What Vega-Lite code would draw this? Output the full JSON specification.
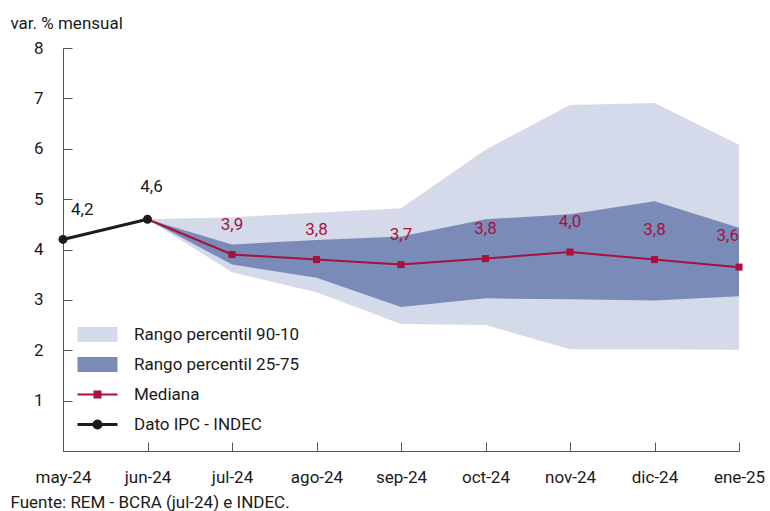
{
  "$schema": "https://vega.github.io/schema/vega-lite/v6.json",
  "width": 676,
  "height": 403,
  "autosize": {"type": "none"},
  "padding": {"left": 63, "top": 48, "right": 31, "bottom": 60},
  "background": "white",
  "config": {
    "font": "Roboto",
    "view": {"stroke": null},
    "axis": {"labelFont": "Roboto", "labelFontSize": 17, "labelColor": "#1a1a1a", "domainColor": "#555555", "tickColor": "#555555", "grid": false, "titleFont": "Roboto", "titleFontSize": 17, "titleFontWeight": "normal", "titleColor": "#1a1a1a"},
    "legend": {"labelFont": "Roboto"}
  },
  "data": {
    "values": [
      {"mes": "may-24", "ipc": 4.2, "lblIpc": "4,2"},
      {"mes": "jun-24", "ipc": 4.6, "lblIpc": "4,6", "mediana": 4.6, "p10": 4.6, "p90": 4.6, "p25": 4.6, "p75": 4.6},
      {"mes": "jul-24", "mediana": 3.9, "lbl": "3,9", "p10": 3.55, "p90": 4.64, "p25": 3.7, "p75": 4.1},
      {"mes": "ago-24", "mediana": 3.8, "lbl": "3,8", "p10": 3.15, "p90": 4.73, "p25": 3.44, "p75": 4.19},
      {"mes": "sep-24", "mediana": 3.7, "lbl": "3,7", "p10": 2.52, "p90": 4.82, "p25": 2.86, "p75": 4.26},
      {"mes": "oct-24", "mediana": 3.82, "lbl": "3,8", "p10": 2.5, "p90": 5.98, "p25": 3.03, "p75": 4.6},
      {"mes": "nov-24", "mediana": 3.95, "lbl": "4,0", "p10": 2.02, "p90": 6.87, "p25": 3.01, "p75": 4.7},
      {"mes": "dic-24", "mediana": 3.8, "lbl": "3,8", "p10": 2.02, "p90": 6.91, "p25": 2.99, "p75": 4.96},
      {"mes": "ene-25", "mediana": 3.65, "lbl": "3,6", "p10": 2.01, "p90": 6.08, "p25": 3.07, "p75": 4.43}
    ]
  },
  "encoding": {
    "x": {
      "field": "mes",
      "type": "ordinal",
      "sort": ["may-24", "jun-24", "jul-24", "ago-24", "sep-24", "oct-24", "nov-24", "dic-24", "ene-25"],
      "scale": {"type": "point", "padding": 0},
      "axis": {
        "labelAngle": 0,
        "tickSize": -9,
        "labelPadding": 27,
        "title": "Fuente: REM - BCRA (jul-24) e INDEC.",
        "titleX": -53,
        "titleY": 56,
        "titleAlign": "left",
        "titleBaseline": "alphabetic",
        "titleAnchor": "start"
      }
    }
  },
  "layer": [
    {
      "mark": {"type": "area", "opacity": 1},
      "encoding": {
        "y": {"field": "p10", "type": "quantitative", "scale": {"domain": [0, 8], "nice": false, "zero": true},
          "axis": {"values": [1, 2, 3, 4, 5, 6, 7, 8], "tickSize": -9, "labelPadding": 29, "title": "var. % mensual", "titleAngle": 0, "titleX": -53, "titleY": -20, "titleAlign": "left", "titleBaseline": "alphabetic", "titleAnchor": "start"}},
        "y2": {"field": "p90"},
        "color": {
          "datum": "Rango percentil 90-10",
          "scale": {"domain": ["Rango percentil 90-10", "Rango percentil 25-75", "Mediana", "Dato IPC - INDEC"], "range": ["#d5daea", "#7b8bb8", "#a6113d", "#1c1c1c"]},
          "legend": {
            "orient": "none", "legendX": 22, "legendY": 274, "title": null,
            "symbolSize": 625, "labelFontSize": 17, "labelColor": "#1a1a1a", "labelOffset": 24, "labelLimit": 400, "rowPadding": 9, "padding": 0, "symbolStrokeWidth": 0, "symbolOpacity": 1
          }
        }
      }
    },
    {
      "mark": {"type": "area", "opacity": 1},
      "encoding": {
        "y": {"field": "p25", "type": "quantitative"},
        "y2": {"field": "p75"},
        "color": {"datum": "Rango percentil 25-75"}
      }
    },
    {
      "mark": {"type": "line", "strokeWidth": 2},
      "encoding": {
        "y": {"field": "mediana", "type": "quantitative"},
        "color": {"datum": "Mediana"}
      }
    },
    {
      "transform": [{"filter": "isValid(datum.lbl)"}],
      "mark": {"type": "point", "shape": "square", "filled": true, "size": 50, "opacity": 1},
      "encoding": {
        "y": {"field": "mediana", "type": "quantitative"},
        "color": {"datum": "Mediana"}
      }
    },
    {
      "mark": {"type": "line", "strokeWidth": 3},
      "encoding": {
        "y": {"field": "ipc", "type": "quantitative"},
        "color": {"datum": "Dato IPC - INDEC"}
      }
    },
    {
      "transform": [{"filter": "isValid(datum.ipc)"}],
      "mark": {"type": "point", "shape": "circle", "filled": true, "size": 81, "opacity": 1},
      "encoding": {
        "y": {"field": "ipc", "type": "quantitative"},
        "color": {"datum": "Dato IPC - INDEC"}
      }
    },
    {
      "transform": [{"filter": "false"}],
      "mark": {"type": "point", "filled": true, "opacity": 1},
      "encoding": {
        "y": {"field": "ipc", "type": "quantitative"},
        "color": {"datum": "Dato IPC - INDEC"},
        "shape": {
          "datum": "Dato IPC - INDEC",
          "scale": {"domain": ["Rango percentil 90-10", "Rango percentil 25-75", "Mediana", "Dato IPC - INDEC"],
            "range": ["M-1.6,-0.6H1.6V0.6H-1.6Z", "M-1.6,-0.6H1.6V0.6H-1.6Z", "M-1.6,-0.08H-0.32V-0.32H0.32V-0.08H1.6V0.08H0.32V0.32H-0.32V0.08H-1.6Z", "M-1.6,-0.12H-0.38A0.4,0.4 0 0 1 0.38,-0.12H1.6V0.12H0.38A0.4,0.4 0 0 1 -0.38,0.12H-1.6Z"]}
        }
      }
    },
    {
      "transform": [{"filter": "isValid(datum.lbl) && datum.mes !== 'ene-25'"}],
      "mark": {"type": "text", "fontSize": 17, "color": "#a6113d", "baseline": "middle", "align": "center", "dy": -30},
      "encoding": {
        "y": {"field": "mediana", "type": "quantitative"},
        "text": {"field": "lbl"}
      }
    },
    {
      "transform": [{"filter": "datum.mes === 'ene-25'"}],
      "mark": {"type": "text", "fontSize": 17, "color": "#a6113d", "baseline": "middle", "align": "right", "dy": -31},
      "encoding": {
        "y": {"field": "mediana", "type": "quantitative"},
        "text": {"field": "lbl"}
      }
    },
    {
      "transform": [{"filter": "datum.mes === 'may-24'"}],
      "mark": {"type": "text", "fontSize": 17, "color": "#1a1a1a", "baseline": "middle", "align": "left", "dx": 8, "dy": -29},
      "encoding": {
        "y": {"field": "ipc", "type": "quantitative"},
        "text": {"field": "lblIpc"}
      }
    },
    {
      "transform": [{"filter": "datum.mes === 'jun-24'"}],
      "mark": {"type": "text", "fontSize": 17, "color": "#1a1a1a", "baseline": "middle", "align": "center", "dx": 4, "dy": -32},
      "encoding": {
        "y": {"field": "ipc", "type": "quantitative"},
        "text": {"field": "lblIpc"}
      }
    }
  ]
}
